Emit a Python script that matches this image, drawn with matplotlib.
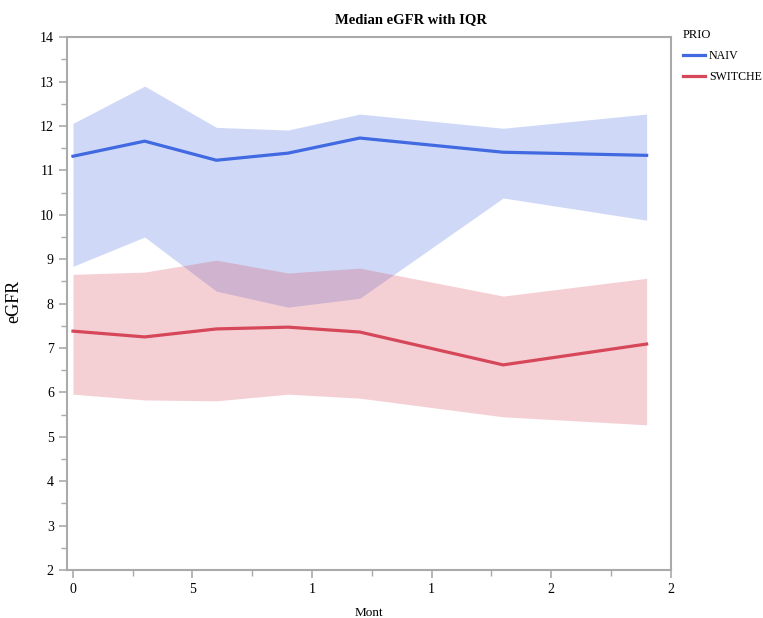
import matplotlib
matplotlib.use('Agg')
import matplotlib.pyplot as plt
from matplotlib.ticker import MultipleLocator, FixedLocator

plt.rcParams['font.family'] = ['Liberation Serif', 'DejaVu Serif']

# 資料
months = [0, 3, 6, 9, 12, 18, 24]
naiv_median = [11.32, 11.66, 11.23, 11.39, 11.73, 11.41, 11.34]
naiv_q1 = [8.84, 9.50, 8.28, 7.92, 8.12, 10.38, 9.88]
naiv_q3 = [12.06, 12.90, 11.97, 11.91, 12.27, 11.95, 12.27]
switch_median = [7.38, 7.25, 7.43, 7.47, 7.36, 6.62, 7.09]
switch_q1 = [5.96, 5.83, 5.81, 5.96, 5.87, 5.45, 5.27]
switch_q3 = [8.66, 8.71, 8.98, 8.69, 8.80, 8.17, 8.57]
x_ticks = [0, 5, 10, 15, 20, 25]
x_labels = ['0', '5', '1', '1', '2', '2']

blue = '#4169E1'
red = '#D6475A'

fig = plt.figure(figsize=(7.63, 6.18), dpi=100)
ax = fig.add_axes([0.0878, 0.0777, 0.791, 0.862])

ax.fill_between(months, naiv_q1, naiv_q3, color=blue, alpha=0.25, lw=0)
ax.fill_between(months, switch_q1, switch_q3, color=red, alpha=0.25, lw=0)
ax.plot(months, naiv_median, color=blue, lw=2.3, label='NAIV')
ax.plot(months, switch_median, color=red, lw=2.3, label='SWITCHE')

ax.set_xlim(-0.25, 25)
ax.set_ylim(2, 14)
ax.xaxis.set_major_locator(FixedLocator(x_ticks))
ax.set_xticklabels(x_labels)
ax.xaxis.set_minor_locator(MultipleLocator(2.5))
ax.yaxis.set_major_locator(MultipleLocator(1))
ax.yaxis.set_minor_locator(MultipleLocator(0.5))

for s in ax.spines.values():
    s.set_color('#aaaaaa')
    s.set_linewidth(1.5)
ax.tick_params(which='major', length=6, color='#aaaaaa', width=1.2, labelsize=10)
ax.tick_params(which='minor', length=4, color='#aaaaaa', width=1.0)

ax.set_xlabel('Mont', fontsize=9.5, labelpad=8)
ax.set_ylabel('eGFR', fontsize=13)
ax.yaxis.set_label_coords(-0.074, 0.505)
fig.text(0.539, 0.968, 'Median eGFR with IQR', ha='center', va='center',
         fontsize=10.5, fontweight='bold')

ax.legend(loc='upper left', bbox_to_anchor=(1.012, 1.024), frameon=False,
          title='PRIO', alignment='left', fontsize=8.6, title_fontsize=9,
          handlelength=1.9, handletextpad=0.3, labelspacing=0.75,
          borderaxespad=0.2, borderpad=0.2)

fig.savefig('out.png', dpi=100)
